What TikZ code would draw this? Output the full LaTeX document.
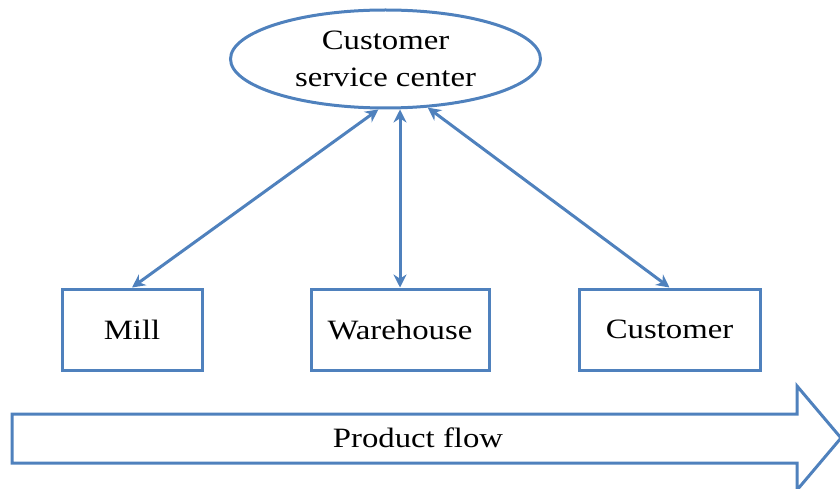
\documentclass[tikz,border=0pt]{standalone}
\usepackage{fontspec}
\setmainfont[FakeStretch=1.17]{Liberation Serif}
\usetikzlibrary{arrows.meta,shapes.geometric}
\definecolor{obl}{HTML}{4F81BD}
\begin{document}
\begin{tikzpicture}[x=1pt,y=-1pt,
  lbl/.style={font=\fontsize{28}{37}\selectfont, text=black},
  boxn/.style={draw=obl, line width=3pt, minimum width=140pt, minimum height=81pt, inner sep=0pt, lbl},
  link/.style={draw=obl, line width=3pt, {Stealth[length=13pt,width=13pt]}-{Stealth[length=13pt,width=13pt]}}]
\useasboundingbox (0,0) rectangle (840,489);
\node[ellipse, draw=obl, line width=3pt, minimum width=310pt, minimum height=98pt, inner sep=0pt, lbl, align=center] (csc) at (385.5,59) {Customer\\service center};
\node[boxn] (mill) at (132,329.5) {Mill};
\node[boxn, minimum width=178pt] (wh) at (400,329.5) {Warehouse};
\node[boxn, minimum width=181pt] (cust) at (669.5,329.5) {Customer};
\draw[link] (csc.-98) -- (mill.north);
\draw[link] (csc.south -| wh.north) -- (wh.north);
\draw[link] (csc.-49) -- (cust.north);
\draw[obl, line width=3pt, line join=miter] (12,414) -- (797,414) -- (797,386) -- (841,438) -- (797,490) -- (797,463) -- (12,463) -- cycle;
\node[lbl] (pf) at (418,438) {Product flow};
\end{tikzpicture}
\end{document}
